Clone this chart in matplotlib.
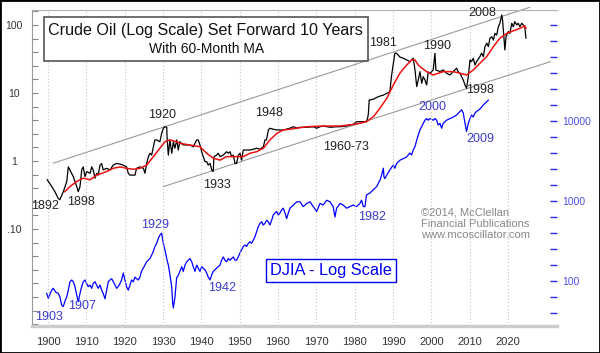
import matplotlib.pyplot as plt
import numpy as np
from matplotlib.patches import Rectangle
from matplotlib.ticker import FixedLocator, NullFormatter

plt.rcParams["font.family"] = ["Liberation Sans", "DejaVu Sans"]

SHIFT = 10  # crude oil is plotted set forward 10 years

# crude oil, $/bbl, actual dates
oil_year = [
    1889.8, 1891.0, 1891.8, 1892.7, 1893.1, 1894.0, 1894.9, 1895.3, 1895.7, 1896.6,
    1897.5, 1897.9, 1898.35, 1898.8, 1899.2, 1899.65, 1900.1, 1901.0, 1901.4, 1901.8,
    1902.26, 1902.7, 1903.1, 1903.57, 1904.0, 1904.4, 1905.3, 1906.2, 1907.0, 1907.9,
    1908.8, 1909.6, 1910.5, 1910.95, 1911.4, 1912.25, 1912.7, 1913.1, 1914.0, 1914.9,
    1915.3, 1915.75, 1916.2, 1916.6, 1917.05, 1917.5, 1917.9, 1918.36, 1919.2, 1919.66,
    1920.1, 1920.5, 1920.97, 1921.1, 1921.4, 1921.8, 1922.3, 1922.7, 1923.1, 1923.6,
    1924.0, 1924.4, 1925.3, 1926.2, 1927.0, 1927.9, 1928.8, 1929.2, 1929.65, 1930.1,
    1930.5, 1930.96, 1931.4, 1931.8, 1932.3, 1932.7, 1933.1, 1933.3, 1934.0, 1934.4,
    1934.9, 1935.7, 1936.6, 1937.0, 1937.5, 1937.9, 1938.35, 1938.8, 1939.2, 1939.65,
    1940.1, 1940.5, 1940.95, 1941.8, 1942.7, 1943.6, 1944.45, 1945.3, 1946.2, 1946.6,
    1947.0, 1947.5, 1947.9, 1948.8, 1949.7, 1950.5, 1951.4, 1952.3, 1953.1, 1954.0,
    1954.9, 1955.7, 1957.5, 1959.2, 1960.1, 1960.96, 1961.8, 1963.6, 1965.3, 1966.2,
    1967.9, 1968.8, 1969.6, 1970.5, 1971.4, 1972.3, 1973.1, 1973.4, 1973.6, 1973.8,
    1974.0, 1974.9, 1975.75, 1976.6, 1977.5, 1978.4, 1979.2, 1979.6, 1980.1, 1980.5,
    1980.96, 1981.8, 1982.7, 1983.6, 1984.4, 1985.3, 1985.75, 1986.2, 1986.6, 1987.05,
    1987.5, 1987.9, 1988.35, 1988.8, 1989.2, 1989.7, 1990.5, 1990.96, 1991.2, 1992.3,
    1993.1, 1994.0, 1994.87, 1995.7, 1996.6, 1997.0, 1997.5, 1997.9, 1998.35, 1998.8,
    1999.2, 1999.66, 2000.1, 2000.5, 2000.96, 2001.4, 2001.8, 2002.7, 2003.1, 2003.6,
    2004.0, 2004.5, 2004.9, 2005.3, 2005.8, 2006.2, 2006.6, 2007.05, 2007.5, 2007.9,
    2008.4, 2008.6, 2009.0, 2009.2, 2009.5, 2009.7, 2010.1, 2010.5, 2011.0, 2011.4,
    2011.8, 2012.3, 2012.7, 2013.1, 2013.6, 2014.0, 2014.4, 2014.7,
]
oil_price = [
    0.53, 0.42, 0.354, 0.28, 0.27, 0.354, 0.50, 0.82, 0.74, 0.59,
    0.42, 0.354, 0.42, 0.74, 0.82, 0.59, 0.70, 0.66, 0.82, 0.74,
    0.56, 0.66, 0.62, 0.87, 0.92, 0.74, 0.78, 0.74, 0.87, 0.92,
    0.90, 0.87, 0.82, 0.66, 0.62, 0.62, 0.62, 0.78, 0.82, 0.78,
    0.66, 0.92, 1.16, 1.30, 1.22, 1.62, 2.04, 2.04, 1.92, 2.55,
    3.03, 3.19, 3.13, 2.04, 1.22, 2.04, 1.30, 1.92, 1.54, 2.04,
    1.45, 1.92, 1.72, 1.72, 1.72, 1.62, 2.04, 2.04, 1.72, 1.37,
    1.16, 0.98, 0.98, 0.87, 0.92, 0.74, 0.70, 1.16, 1.22, 1.30,
    1.16, 1.22, 1.37, 1.30, 1.37, 1.16, 1.22, 0.92, 0.92, 1.22,
    1.30, 1.03, 1.45, 1.45, 1.45, 1.49, 1.54, 1.49, 1.62, 2.04,
    2.04, 2.86, 3.03, 2.93, 2.86, 2.86, 2.86, 2.95, 3.03, 3.19,
    3.06, 3.13, 3.13, 3.19, 3.03, 3.19, 3.27, 3.13, 3.19, 3.19,
    3.27, 3.39, 3.44, 3.78, 3.78, 3.78, 3.78, 4.29, 5.0, 7.9,
    7.9, 8.1, 8.6, 9.0, 9.3, 9.9, 10.4, 17.4, 27.4, 38.4,
    38.4, 33.8, 32.4, 30.6, 28.9, 32.4, 21.8, 12.4, 15.5, 20.6,
    13.9, 17.4, 15.5, 13.1, 20.4, 19.5, 21.8, 38.4, 21.8, 20.6,
    21.8, 19.5, 18.4, 20.6, 23.1, 20.6, 19.5, 17.4, 15.5, 13.1,
    11.7, 17.4, 30.6, 28.9, 32.4, 25.8, 28.9, 34.2, 38.4, 34.2,
    48, 54, 48, 64, 67, 60, 75, 71, 94, 106,
    140, 118, 60, 43, 67, 71, 80, 75, 106, 94,
    112, 100, 106, 94, 106, 100, 94, 64,
]

# 60-month moving average of crude oil, actual dates
ma_year = [
    1894.4, 1895.7, 1897.5, 1899.2, 1901.0, 1902.7, 1905.3, 1907.0, 1908.8, 1910.5,
    1912.25, 1914.0, 1915.75, 1917.5, 1919.2, 1920.5, 1921.8, 1923.6, 1924.4, 1927.0,
    1929.65, 1931.4, 1933.1, 1934.9, 1936.6, 1939.2, 1940.95, 1942.7, 1944.45, 1946.2,
    1947.9, 1949.7, 1951.4, 1953.1, 1957.5, 1961.8, 1966.2, 1970.5, 1973.1, 1974.9,
    1976.6, 1978.4, 1980.1, 1981.8, 1983.6, 1984.9, 1985.75, 1986.6, 1987.05, 1988.8,
    1990.5, 1993.1, 1995.7, 1997.5, 1999.2, 2000.96, 2002.7, 2004.45, 2006.2, 2007.9,
    2009.66, 2011.4, 2013.1, 2014.4, 2014.7,
]
ma_price = [
    0.354, 0.42, 0.50, 0.56, 0.53, 0.62, 0.70, 0.78, 0.82, 0.78,
    0.755, 0.78, 0.87, 1.16, 1.54, 1.92, 2.04, 1.92, 1.82, 1.72,
    1.62, 1.30, 1.10, 1.03, 1.16, 1.16, 1.16, 1.30, 1.37, 1.54,
    2.04, 2.55, 2.86, 2.93, 3.19, 3.27, 3.27, 3.50, 3.78, 4.48,
    5.96, 8.36, 13.1, 19.5, 25.8, 30.6, 30.6, 25.8, 24.4, 20.6,
    18.4, 20.6, 20.6, 19.5, 18.4, 21.8, 27.4, 34.2, 48, 64,
    75, 82, 89, 97, 89,
]

# Dow Jones Industrial Average (not shifted)
djia_year = [
    1899.66, 1900.08, 1900.97, 1901.38, 1902.09, 1902.69, 1903.13, 1903.57, 1903.99, 1904.43,
    1904.88, 1905.3, 1905.74, 1906.18, 1906.6, 1907.04, 1907.49, 1907.9, 1908.35, 1908.79,
    1909.21, 1909.65, 1910.1, 1910.5, 1910.96, 1911.4, 1911.8, 1912.26, 1912.7, 1913.1,
    1913.57, 1914.0, 1914.4, 1914.87, 1915.3, 1915.73, 1916.18, 1916.6, 1917.04, 1917.48,
    1917.92, 1918.3, 1918.78, 1919.2, 1919.65, 1920.1, 1920.5, 1920.95, 1921.4, 1921.8,
    1922.25, 1922.7, 1923.1, 1923.56, 1924.0, 1924.4, 1924.86, 1925.3, 1925.75, 1926.17,
    1926.6, 1927.05, 1927.47, 1927.9, 1928.36, 1928.78, 1929.22, 1929.66, 1930.08, 1930.52,
    1930.97, 1931.4, 1931.83, 1932.27, 1932.53, 1932.7, 1933.13, 1933.57, 1934.0, 1934.9,
    1935.3, 1935.74, 1936.2, 1936.6, 1937.05, 1937.5, 1937.9, 1938.35, 1938.8, 1939.2,
    1939.65, 1940.1, 1940.5, 1940.96, 1941.4, 1941.8, 1942.26, 1942.7, 1943.1, 1943.57,
    1944.0, 1944.4, 1944.87, 1945.3, 1945.74, 1946.18, 1946.6, 1947.04, 1947.48, 1947.9,
    1948.35, 1948.8, 1949.2, 1949.65, 1950.09, 1950.5, 1950.95, 1951.4, 1951.8, 1952.26,
    1952.7, 1953.1, 1953.56, 1954.0, 1954.45, 1954.87, 1955.3, 1955.75, 1956.17, 1956.6,
    1957.05, 1957.48, 1957.9, 1958.36, 1958.78, 1959.22, 1959.66, 1960.08, 1960.52, 1960.96,
    1961.4, 1961.83, 1962.27, 1962.7, 1963.14, 1963.57, 1964.0, 1964.9, 1965.74, 1966.6,
    1967.5, 1968.35, 1969.2, 1970.1, 1970.96, 1971.8, 1972.7, 1973.57, 1974.4, 1974.87,
    1975.3, 1976.2, 1977.0, 1977.9, 1978.8, 1979.65, 1980.5, 1981.4, 1981.8, 1982.26,
    1982.7, 1983.1, 1984.0, 1984.87, 1985.75, 1986.6, 1987.05, 1987.5, 1987.66, 1987.9,
    1988.4, 1989.2, 1990.1, 1990.5, 1990.96, 1991.83, 1992.7, 1993.57, 1994.4, 1994.87,
    1995.3, 1995.75, 1996.2, 1996.6, 1997.05, 1997.5, 1997.9, 1998.35, 1998.8, 1999.2,
    1999.66, 2000.1, 2000.5, 2000.96, 2001.4, 2001.8, 2002.27, 2002.7, 2003.1, 2003.57,
    2004.0, 2004.87, 2005.74, 2006.6, 2007.5, 2007.9, 2008.35, 2008.8, 2009.2, 2009.66,
    2010.1, 2010.5, 2010.96, 2011.4, 2011.83, 2012.7, 2013.57, 2014.87,
]
djia_value = [
    70, 61, 77, 81, 72, 70, 63, 50, 48, 56,
    63, 77, 98, 103, 98, 85, 67, 55, 70, 85,
    98, 103, 93, 85, 89, 81, 93, 98, 89, 81,
    89, 77, 70, 60, 77, 98, 103, 107, 98, 89,
    81, 85, 93, 103, 126, 103, 85, 77, 89, 103,
    98, 112, 107, 103, 112, 132, 145, 158, 174, 182,
    191, 211, 234, 270, 296, 340, 376, 396, 296, 244,
    191, 158, 119, 85, 53, 46, 63, 110, 118, 151,
    132, 158, 174, 182, 191, 174, 151, 132, 158, 145,
    132, 151, 145, 138, 126, 112, 103, 119, 132, 138,
    145, 151, 158, 182, 200, 182, 174, 191, 182, 191,
    200, 182, 182, 200, 224, 245, 270, 282, 270, 296,
    309, 296, 324, 357, 415, 479, 525, 550, 501, 525,
    575, 550, 501, 575, 668, 708, 741, 668, 708, 776,
    813, 708, 603, 708, 813, 851, 891, 977, 977, 851,
    933, 977, 851, 741, 933, 891, 1023, 977, 851, 631,
    813, 933, 891, 813, 851, 891, 851, 933, 1023, 851,
    851, 1189, 1259, 1380, 1514, 1820, 2113, 2570, 2000, 1906,
    2113, 2455, 2818, 2570, 2951, 3236, 3388, 3548, 3981, 3758,
    4365, 4786, 5754, 6683, 7762, 8511, 9333, 10233, 10715, 10233,
    10715, 10475, 10233, 10715, 10233, 8913, 9333, 8128, 9333, 9772,
    10233, 10715, 11220, 11885, 13183, 13804, 12589, 9333, 7413, 9333,
    10715, 11885, 11220, 12589, 13183, 14125, 15849, 18197,
]

# trend channel drawn on the oil series (actual dates)
upper_year = [1891.4, 2015.7]
upper_price = [0.93, 182]
lower_year = [1920.1, 2021.0]
lower_price = [0.42, 28.8]

decades = list(range(1900, 2030, 10))

fig = plt.figure(figsize=(6.0, 3.53), dpi=100)
fig.patch.set_facecolor("white")
ax = fig.add_axes([32 / 600, 1 - 326 / 353, 525 / 600, 316 / 353])
ax2 = ax.twinx()

# oil axis (left)
ax.set_yscale("log")
ax.set_xlim(1895.83, 2032.8)
ax.set_ylim(0.00375, 166)
ax.set_zorder(2)
ax.patch.set_visible(False)
ax2.set_zorder(1)

ax.plot(np.array(upper_year) + SHIFT, upper_price, color="#9a9a9a", lw=0.8, clip_on=False)
ax.plot(np.array(lower_year) + SHIFT, lower_price, color="#9a9a9a", lw=0.8)
ax.plot(np.array(oil_year) + SHIFT, oil_price, color="black", lw=0.9)
ax.plot(np.array(ma_year) + SHIFT, ma_price, color="#ee1111", lw=1.1)

ax.yaxis.set_major_locator(FixedLocator([0.1, 1, 10, 100]))
ax.set_yticklabels([".10", "1", "10", "100"])
ax.yaxis.set_minor_locator(FixedLocator(10 ** (np.arange(-15, 12) / 5)))
ax.yaxis.set_minor_formatter(NullFormatter())
ax.tick_params(axis="y", which="both", direction="in", length=4, width=0.8,
               color="#888888", labelsize=7.5, labelcolor="#333333", pad=13)
plt.setp(ax.get_yticklabels(), ha="center")

ax.set_xticks(decades)
ax.tick_params(axis="x", length=0, labelsize=8, labelcolor="#333333", pad=8)
ax.grid(axis="x", color="#c4c4c4", lw=0.8, ls=(0, (1, 2)))

ax.spines["right"].set_visible(False)
ax.spines["left"].set_color("#999999")
ax.spines["left"].set_linewidth(0.8)
ax.spines["top"].set_color("#b0b0b0")
ax.spines["top"].set_linewidth(0.8)
ax.spines["bottom"].set_color("#cccccc")
ax.spines["bottom"].set_linewidth(2.5)

# DJIA axis (right)
ax2.set_yscale("log")
ax2.set_ylim(27.4, 244000)
ax2.plot(djia_year, djia_value, color="#0000ff", lw=0.9)
ax2.yaxis.set_major_locator(FixedLocator([100, 1000, 10000]))
ax2.set_yticklabels(["100", "1000", "10000"])
ax2.yaxis.set_minor_locator(FixedLocator(10 ** (np.arange(5, 28) / 5)))
ax2.yaxis.set_minor_formatter(NullFormatter())
ax2.tick_params(axis="y", which="both", direction="in", length=5, width=1,
                color="#2b2bf0", labelsize=7.5, labelcolor="#5050dd", pad=4)
for spine in ax2.spines.values():
    spine.set_visible(False)

# labels on the oil line
oil_labels = [
    ("1892", 1899.2, 0.218), ("1898", 1908.6, 0.249), ("1920", 1929.7, 4.75),
    ("1948", 1957.7, 5.08), ("1933", 1944.1, 0.444), ("1960-73", 1977.7, 1.61),
    ("1981", 1987.4, 54.3), ("1990", 2001.5, 49.2), ("2008", 2013.2, 150),
    ("1998", 2012.7, 11.1),
]
for text, x, y in oil_labels:
    ax.text(x, y, text, ha="center", va="center", fontsize=9, color="#222222")

djia_labels = [
    ("2000", 2000.2, 14962), ("2009", 2012.7, 5957), ("1982", 1984.5, 631),
    ("1929", 1927.9, 501), ("1942", 1945.4, 81.8), ("1907", 1908.9, 48.7),
    ("1903", 1900.3, 35.5),
]
for text, x, y in djia_labels:
    ax.text(x, y, text, ha="center", va="center", fontsize=9, color="#3c3ccc",
            transform=ax2.transData)

# title box
fig.add_artist(Rectangle((44 / 600, 1 - 61 / 353), 324 / 600, 44 / 353,
                         transform=fig.transFigure, facecolor="white",
                         edgecolor="#555555", lw=1.2, zorder=5))
fig.text(205.5 / 600, 1 - 30 / 353, "Crude Oil (Log Scale) Set Forward 10 Years",
         ha="center", va="center", fontsize=11.6, color="#111111", zorder=6)
fig.text(206.5 / 600, 1 - 49 / 353, "With 60-Month MA",
         ha="center", va="center", fontsize=10, color="#111111", zorder=6)

# DJIA box
fig.text(331 / 600, 1 - 270.5 / 353, "DJIA - Log Scale", ha="center", va="center",
         fontsize=11.8, color="#0000ee", zorder=6,
         bbox=dict(boxstyle="square,pad=0.22", facecolor="white", edgecolor="#0000ee", lw=1))

fig.text(421 / 600, 1 - 224 / 353,
         "\u00a92014, McClellan\nFinancial Publications\nwww.mcoscillator.com",
         ha="left", va="center", fontsize=8, color="#888888", linespacing=1.15)

fig.add_artist(Rectangle((0, 0), 1, 1, transform=fig.transFigure, fill=False,
                         edgecolor="black", lw=2))

fig.savefig("out.png", dpi=100)
plt.close(fig)
